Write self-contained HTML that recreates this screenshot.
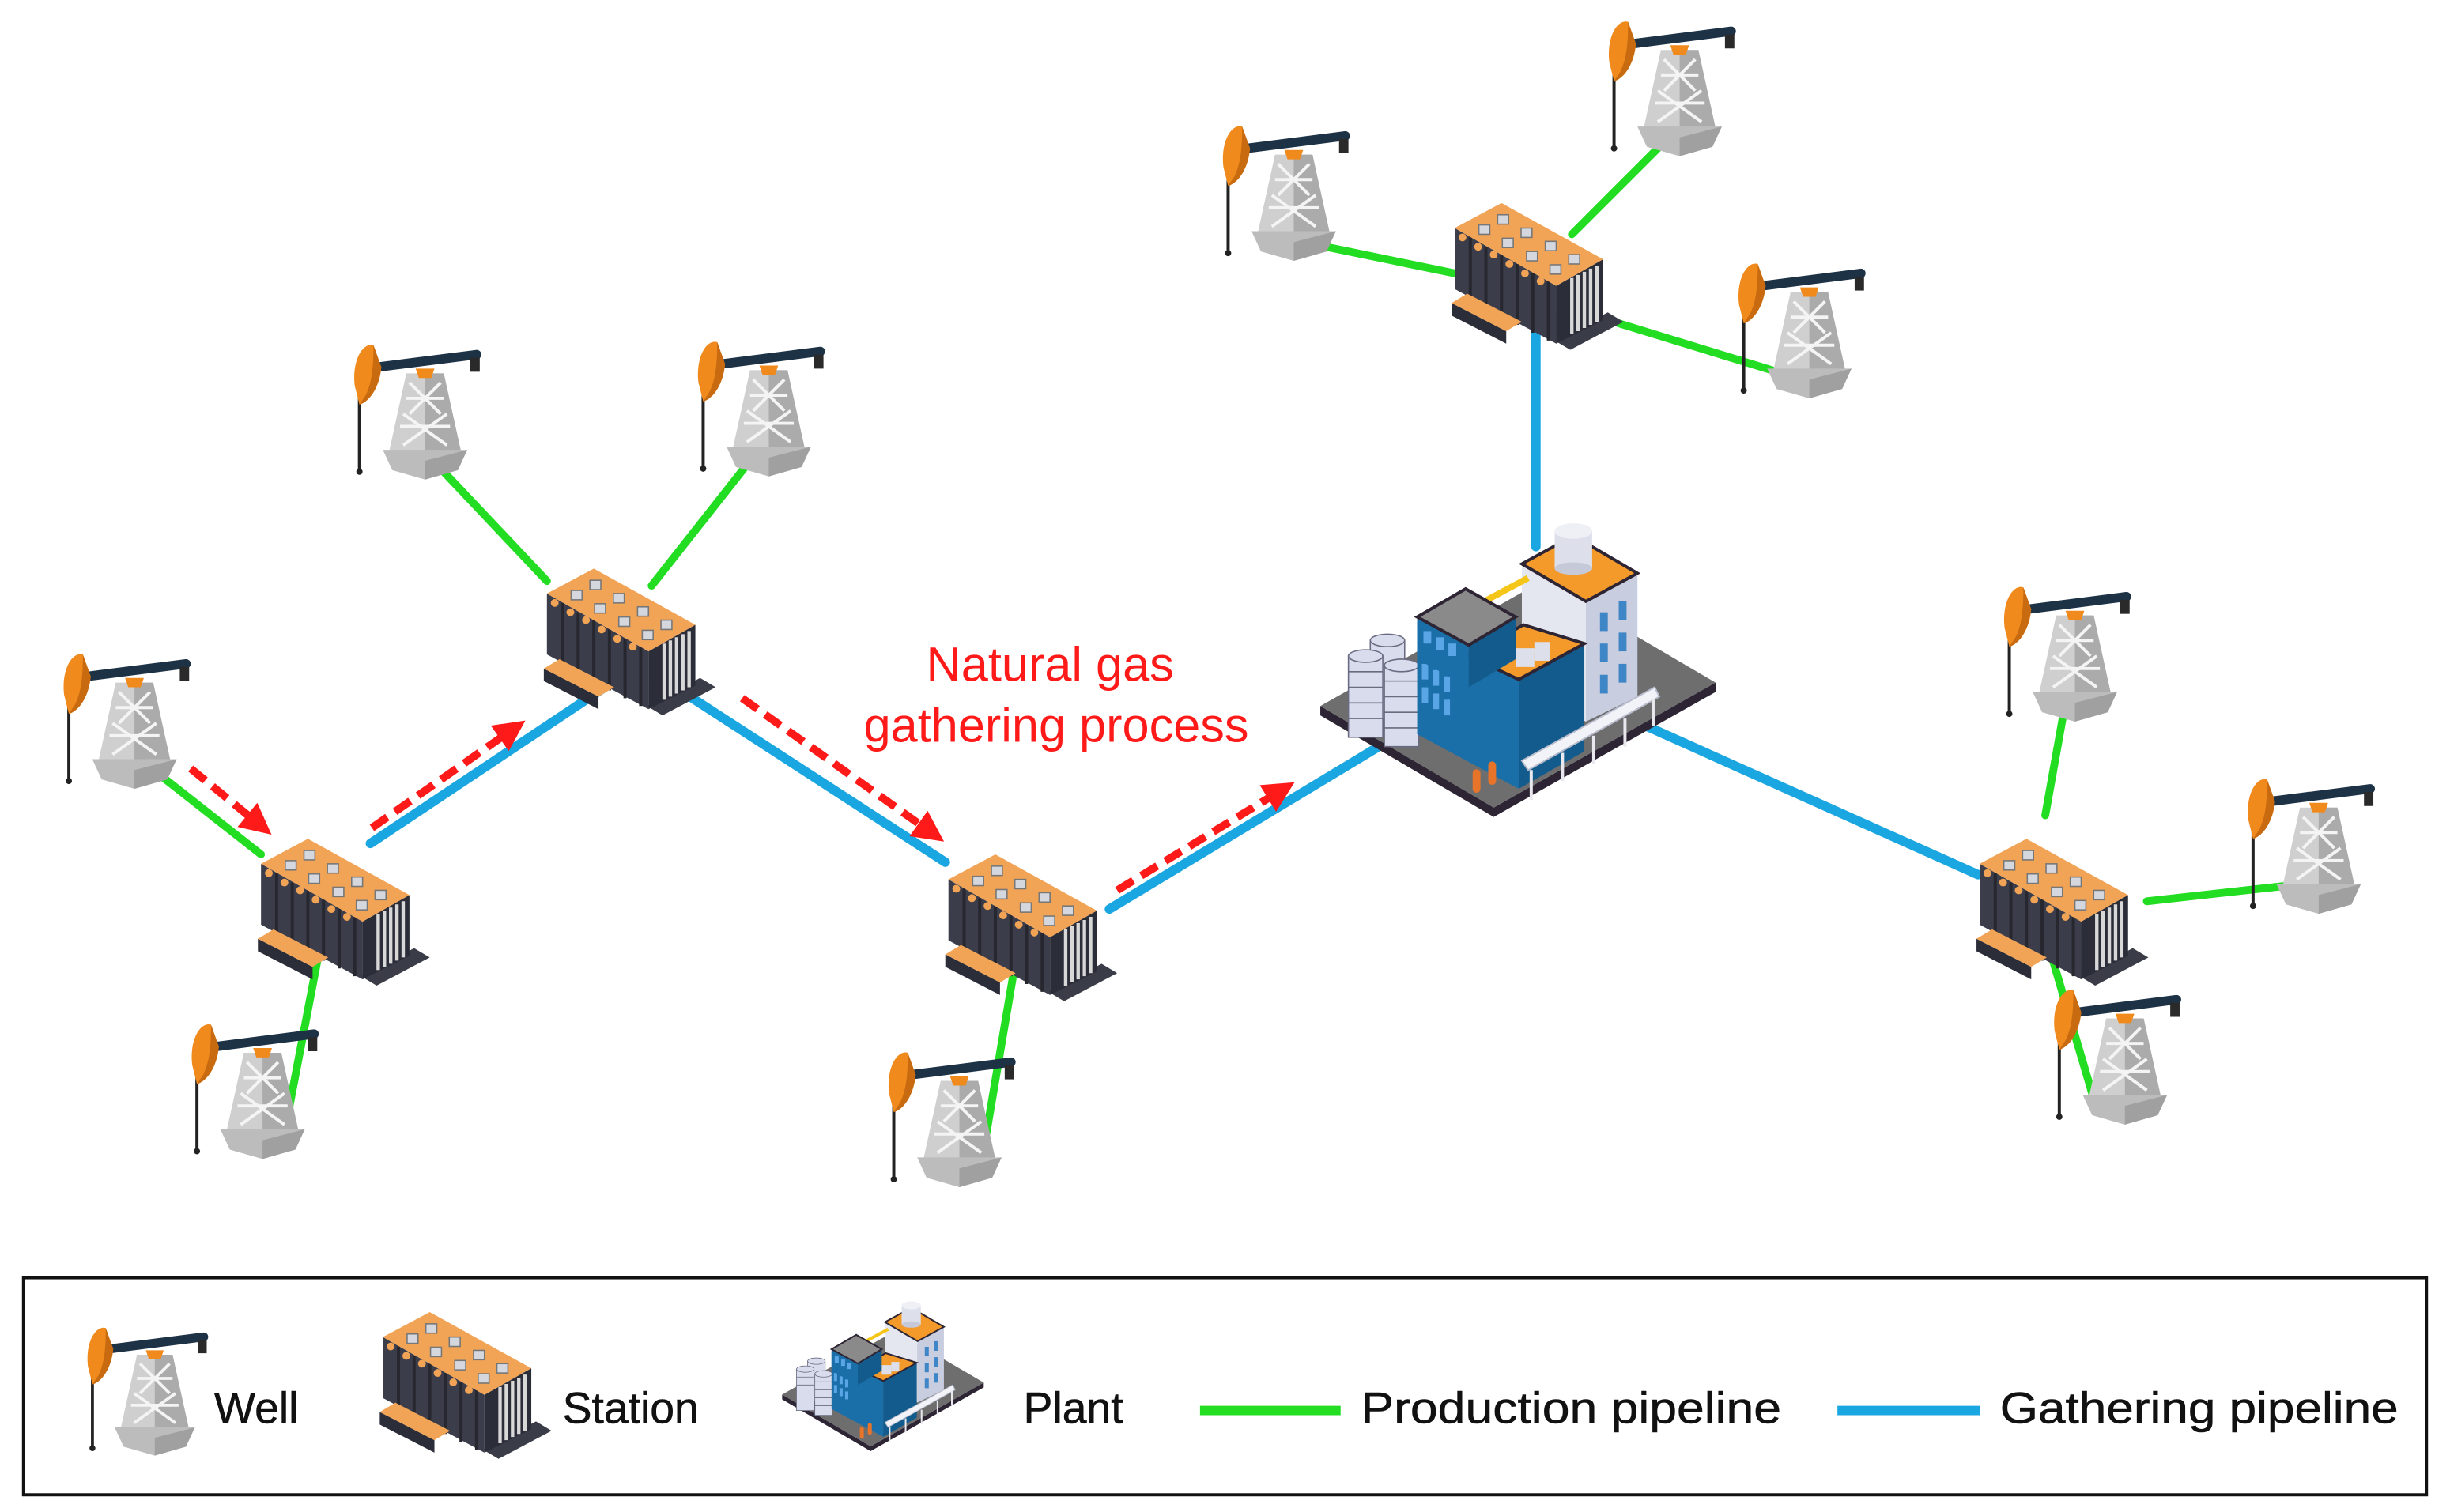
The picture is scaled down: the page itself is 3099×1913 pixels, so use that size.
<!DOCTYPE html>
<html><head><meta charset="utf-8"><style>
html,body{margin:0;padding:0;background:#fff}
svg{display:block}
text{font-family:"Liberation Sans",sans-serif}
</style></head><body>
<svg width="3099" height="1913" viewBox="0 0 1568 968" xmlns="http://www.w3.org/2000/svg">
<defs>
<marker id="ah" markerWidth="4" markerHeight="4" refX="2" refY="2" orient="auto" markerUnits="strokeWidth">
<path d="M0,0 L4,2 L0,4 Z" fill="#ff1a1a"/></marker>
<g id="well">
<line x1="-42" y1="-55" x2="-42" y2="-3" stroke="#222" stroke-width="2"/>
<circle cx="-42" cy="-3" r="2" fill="#222"/>
<polygon points="-12,-66 12,-66 23,-16 -23,-16" fill="#cfcfcf"/>
<polygon points="0,-66 12,-66 23,-16 0,-16" fill="#ababab"/>
<path d="M-10,-60 L10,-40 M10,-60 L-10,-40 M-14,-40 L14,-20 M14,-40 L-14,-20 M-12,-50 L12,-50 M-16,-32 L16,-32" stroke="#f4f4f4" stroke-width="2"/>
<polygon points="-27,-17 27,-17 21,-4 0,2 -21,-4" fill="#bcbcbc"/>
<polygon points="0,-10 27,-17 21,-4 0,2" fill="#a0a0a0"/>
<line x1="-30" y1="-70" x2="33" y2="-78" stroke="#1e3246" stroke-width="6" stroke-linecap="round"/>
<rect x="29" y="-76" width="6" height="9" fill="#2a2a2a"/>
<path d="M-6,-69 L6,-69 L4,-63 L-4,-63 Z" fill="#f08a1c"/>
<path d="M-45,-58 C-47,-74 -40,-86 -33,-84 L-28,-70 C-29,-58 -35,-48 -42,-46 Z" fill="#f08a1c"/>
<path d="M-33,-84 L-28,-70 C-29,-58 -35,-48 -42,-46 L-38,-52 C-34,-60 -33,-70 -33,-84Z" fill="#c86a10"/>
</g>
<g id="station">
<polygon points="66,90 100,72 110,78 76,96" fill="#3a3c48"/>
<polygon points="2,18 67,55 67,92 2,57" fill="#3b3d4a"/>
<path d="M12,24 V63 M22,30 V68 M32,35 V74 M42,41 V80 M52,47 V85 M62,52 V90" stroke="#26272f" stroke-width="2"/>
<g fill="#f1a356"><circle cx="7" cy="24" r="2.5"/><circle cx="17" cy="30" r="2.5"/><circle cx="27" cy="35" r="2.5"/><circle cx="37" cy="41" r="2.5"/><circle cx="47" cy="47" r="2.5"/><circle cx="57" cy="52" r="2.5"/></g>
<polygon points="67,55 97,38 97,77 67,92" fill="#2b2d38"/>
<path d="M77,50 V86 M81,48 V84 M85,46 V82 M89,44 V80 M93,42 V78" stroke="#d8d8d8" stroke-width="2.2"/>
<polygon points="2,18 32,2 97,38 67,55" fill="#f1a356"/>
<g fill="#d4d7de" stroke="#777" stroke-width="0.8">
<rect x="17.5" y="16" width="7" height="6"/><rect x="32.5" y="24.5" width="7" height="6"/><rect x="48" y="33" width="7" height="6"/><rect x="63" y="41.5" width="7" height="6"/>
<rect x="29.5" y="9.5" width="7" height="6"/><rect x="44.5" y="18" width="7" height="6"/><rect x="60" y="26.5" width="7" height="6"/><rect x="75" y="35" width="7" height="6"/>
</g>
<polygon points="0,66 35,84 35,92 0,74" fill="#2b2d38"/>
<polygon points="0,66 10,60 45,78 35,84" fill="#f1a356"/>
</g>
<g id="plant">
<polygon points="845,458 956,523 1098,443 1098,437 956,517 845,452" fill="#2d2434"/>
<polygon points="845,452 987,372 1098,437 956,517" fill="#6e6e6e"/>
<polygon points="974,361 1015,385 1015,462 974,440" fill="#e4e6f0"/>
<polygon points="1015,385 1048,367 1048,446 1015,462" fill="#c9cde0"/>
<g fill="#3f86c6"><rect x="1024" y="392" width="5" height="12"/><rect x="1036" y="385" width="5" height="12"/><rect x="1024" y="412" width="5" height="12"/><rect x="1036" y="405" width="5" height="12"/><rect x="1024" y="432" width="5" height="12"/><rect x="1036" y="425" width="5" height="12"/></g>
<g fill="#222"><circle cx="979" cy="406" r="3"/><circle cx="988" cy="411" r="3"/><circle cx="997" cy="416" r="3"/><circle cx="1006" cy="421" r="3"/></g>
<polygon points="974,361 1007,343 1048,367 1015,385" fill="#f39a2a" stroke="#2d2434" stroke-width="2"/>
<rect x="995" y="340" width="24" height="24" fill="#dde0ea"/>
<ellipse cx="1007" cy="364" rx="12" ry="4" fill="#c5c9d8"/>
<ellipse cx="1007" cy="340" rx="12" ry="5" fill="#eef0f6"/>
<path d="M950,385 L978,370" stroke="#f5c518" stroke-width="4"/>
<g fill="#d8dcec" stroke="#6a6a80" stroke-width="0.8">
<rect x="877" y="410" width="22" height="50"/><ellipse cx="888" cy="410" rx="11" ry="4"/>
<rect x="863" y="420" width="22" height="52"/><ellipse cx="874" cy="420" rx="11" ry="4"/>
<rect x="886" y="426" width="22" height="52"/><ellipse cx="897" cy="426" rx="11" ry="4"/>
</g>
<path d="M863,430 H885 M863,440 H885 M863,450 H885 M863,460 H885 M886,436 H908 M886,446 H908 M886,456 H908 M886,466 H908" stroke="#6a6a80" stroke-width="0.8"/>
<polygon points="907,398 972,435 972,505 907,470" fill="#1a6fa8"/>
<polygon points="972,435 1014,412 1014,481 972,505" fill="#135b8c"/>
<g fill="#5aa5e6"><rect x="910" y="425" width="4" height="10"/><rect x="917" y="429" width="4" height="10"/><rect x="924" y="433" width="4" height="10"/><rect x="910" y="440" width="4" height="10"/><rect x="917" y="444" width="4" height="10"/><rect x="924" y="448" width="4" height="10"/></g>
<polygon points="940,420 975,400 1014,412 972,435" fill="#f39a2a" stroke="#2d2434" stroke-width="2"/>
<rect x="970" y="415" width="12" height="12" fill="#dde0ea"/><rect x="982" y="411" width="10" height="12" fill="#dde0ea"/>
<polygon points="907,395 940,413 940,440 907,422" fill="#1a6fa8"/>
<polygon points="940,413 970,395 970,422 940,440" fill="#135b8c"/>
<g fill="#5aa5e6"><rect x="911" y="404" width="5" height="8"/><rect x="919" y="408" width="5" height="8"/><rect x="927" y="412" width="5" height="8"/></g>
<polygon points="907,395 938,377 970,395 940,413" fill="#8a8a8a" stroke="#2d2434" stroke-width="2"/>
<polygon points="974,487 1059,440 1062,446 978,493" fill="#f2f3f8" stroke="#b8bccc" stroke-width="1"/>
<path d="M980,493 V512 M1000,482 V500 M1020,471 V489 M1040,460 V478 M1058,447 V465" stroke="#e8e8ee" stroke-width="2"/>
<path d="M945,495 L945,505 M955,490 L955,500" stroke="#e8742a" stroke-width="5" stroke-linecap="round"/>
</g>
</defs>

<g stroke-linecap="round" fill="none">
<g stroke="#1aa6e0" stroke-width="6">
<line x1="237" y1="540" x2="387" y2="440"/>
<line x1="440" y1="445" x2="605" y2="552"/>
<line x1="710" y1="582" x2="884" y2="477"/>
<line x1="983" y1="210" x2="983" y2="350"/>
<line x1="1054" y1="465" x2="1266" y2="560"/>
</g>
<g stroke="#22dd22" stroke-width="5">
<line x1="282" y1="300" x2="350" y2="372"/>
<line x1="480" y1="295" x2="417" y2="375"/>
<line x1="97" y1="492" x2="167" y2="547"/>
<line x1="205" y1="605" x2="182" y2="725"/>
<line x1="650" y1="615" x2="628" y2="745"/>
<line x1="839" y1="156" x2="931" y2="175"/>
<line x1="1066" y1="90" x2="1006" y2="150"/>
<line x1="1036" y1="207" x2="1134" y2="237"/>
<line x1="1309" y1="522" x2="1321" y2="455"/>
<line x1="1374" y1="577" x2="1464" y2="567"/>
<line x1="1311" y1="605" x2="1339" y2="700"/>
</g>
</g>

<use href="#well" transform="translate(272,305)"/>
<use href="#well" transform="translate(492,303)"/>
<use href="#well" transform="translate(86,503)"/>
<use href="#well" transform="translate(168,740)"/>
<use href="#well" transform="translate(614,758)"/>
<use href="#well" transform="translate(828,165)"/>
<use href="#well" transform="translate(1075,98)"/>
<use href="#well" transform="translate(1158,253)"/>
<use href="#well" transform="translate(1328,460)"/>
<use href="#well" transform="translate(1484,583)"/>
<use href="#well" transform="translate(1360,718)"/>

<use href="#station" transform="translate(165,535)"/>
<use href="#station" transform="translate(348,362)"/>
<use href="#station" transform="translate(605,545)"/>
<use href="#station" transform="translate(929,128)"/>
<use href="#station" transform="translate(1265,535)"/>

<use href="#plant"/>

<g stroke="#ff1a1a" stroke-width="5" stroke-dasharray="12 6" fill="none" marker-end="url(#ah)">
<line x1="122" y1="492" x2="166" y2="528"/>
<line x1="238" y1="530" x2="328" y2="467"/>
<line x1="475" y1="447" x2="596" y2="533"/>
<line x1="715" y1="570" x2="820" y2="506"/>
</g>
<text x="672" y="436" font-size="31" fill="#ff1a1a" text-anchor="middle">Natural gas</text>
<text x="676" y="475" font-size="31" fill="#ff1a1a" text-anchor="middle">gathering process</text>

<rect x="15" y="818" width="1538" height="139" fill="none" stroke="#111" stroke-width="2"/>
<use href="#well" transform="translate(99,930) scale(0.95)"/>
<text x="137" y="911" font-size="28" fill="#111" stroke="#111" stroke-width="0.3">Well</text>
<use href="#station" transform="translate(243,838)"/>
<text x="360" y="911" font-size="28" fill="#111" stroke="#111" stroke-width="0.3">Station</text>
<use href="#plant" transform="translate(69.6,662.3) scale(0.51)"/>
<text x="655" y="911" font-size="28" fill="#111" stroke="#111" stroke-width="0.3">Plant</text>
<line x1="768" y1="903" x2="858" y2="903" stroke="#22dd22" stroke-width="6"/>
<text x="871" y="911" font-size="28" fill="#111" stroke="#111" stroke-width="0.3" textLength="269" lengthAdjust="spacingAndGlyphs">Production pipeline</text>
<line x1="1176" y1="903" x2="1267" y2="903" stroke="#1aa6e0" stroke-width="6"/>
<text x="1280" y="911" font-size="28" fill="#111" stroke="#111" stroke-width="0.3" textLength="255" lengthAdjust="spacingAndGlyphs">Gathering pipeline</text>
</svg>
</body></html>
